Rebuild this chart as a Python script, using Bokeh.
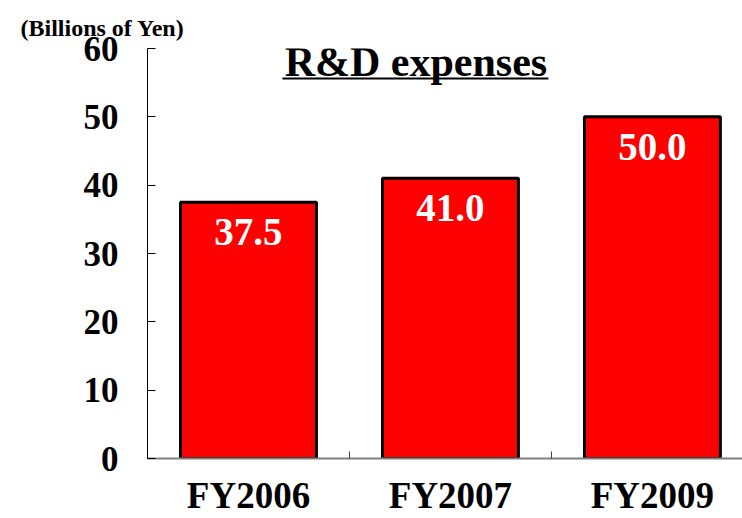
from bokeh.plotting import figure
from bokeh.models import Range1d, FixedTicker, Label, BoxAnnotation, ColumnDataSource
from bokeh.embed import file_html
from bokeh.resources import INLINE

categories = ["FY2006", "FY2007", "FY2009"]
values = [37.5, 41.0, 50.0]
value_labels = ["37.5", "41.0", "50.0"]
y_ticks = [0, 10, 20, 30, 40, 50, 60]

xs = list(range(len(categories)))
src = ColumnDataSource(dict(x=xs, top=values, label=value_labels))

FONT = "Liberation Serif"

p = figure(width=742, height=518, output_backend="svg", toolbar_location=None,
           x_range=Range1d(-0.5, 2.446), y_range=Range1d(0, 60),
           min_border_left=147, min_border_right=0, min_border_top=48,
           min_border_bottom=60, outline_line_color=None)

p.title.text = "(Billions of Yen)"
p.title.text_font = FONT
p.title.text_font_style = "bold"
p.title.text_font_size = "24px"
p.title.text_color = "black"
p.title.align = "left"
p.title.standoff = 16
p.title.offset = -127

p.vbar(x="x", top="top", bottom=0, width=0.673, source=src,
       fill_color="#FF0000", line_color="black", line_width=3)

p.text(x="x", y="top", text="label", source=src, text_color="white",
       text_font=FONT, text_font_style="bold",
       text_font_size="39px", text_align="center", text_baseline="top",
       y_offset=17)

p.xgrid.visible = False
p.ygrid.visible = False

p.yaxis.ticker = FixedTicker(ticks=y_ticks)
p.yaxis.major_tick_in = 8
p.yaxis.major_tick_out = 0
p.yaxis.minor_tick_line_color = None
p.yaxis.major_label_text_font = FONT
p.yaxis.major_label_text_font_style = "bold"
p.yaxis.major_label_text_font_size = "35px"
p.yaxis.major_label_text_color = "black"
p.yaxis.major_label_standoff = 29
p.yaxis.axis_line_color = "black"

p.xaxis.ticker = FixedTicker(ticks=xs, minor_ticks=[0.5, 1.5, 2.5])
p.xaxis.major_label_overrides = {i: c for i, c in zip(xs, categories)}
p.xaxis.major_tick_line_color = None
p.xaxis.minor_tick_in = 7
p.xaxis.minor_tick_out = 0
p.xaxis.minor_tick_line_color = "#404040"
p.xaxis.axis_line_color = "#808080"
p.xaxis.axis_line_width = 2
p.xaxis.major_label_text_font = FONT
p.xaxis.major_label_text_font_style = "bold"
p.xaxis.major_label_text_font_size = "37px"
p.xaxis.major_label_text_color = "black"
p.xaxis.major_label_standoff = 10

title = Label(x=0.829, y=58.0, text="R&D expenses", text_font=FONT,
              text_font_style="bold", text_font_size="42px",
              text_color="black", text_align="center", text_baseline="middle")
p.add_layout(title)

underline = BoxAnnotation(left=0.168, right=1.485, bottom=55.45, top=55.75,
                          fill_color="black", fill_alpha=1.0, line_color=None)
p.add_layout(underline)

open("out.html", "w").write(file_html(p, INLINE))
